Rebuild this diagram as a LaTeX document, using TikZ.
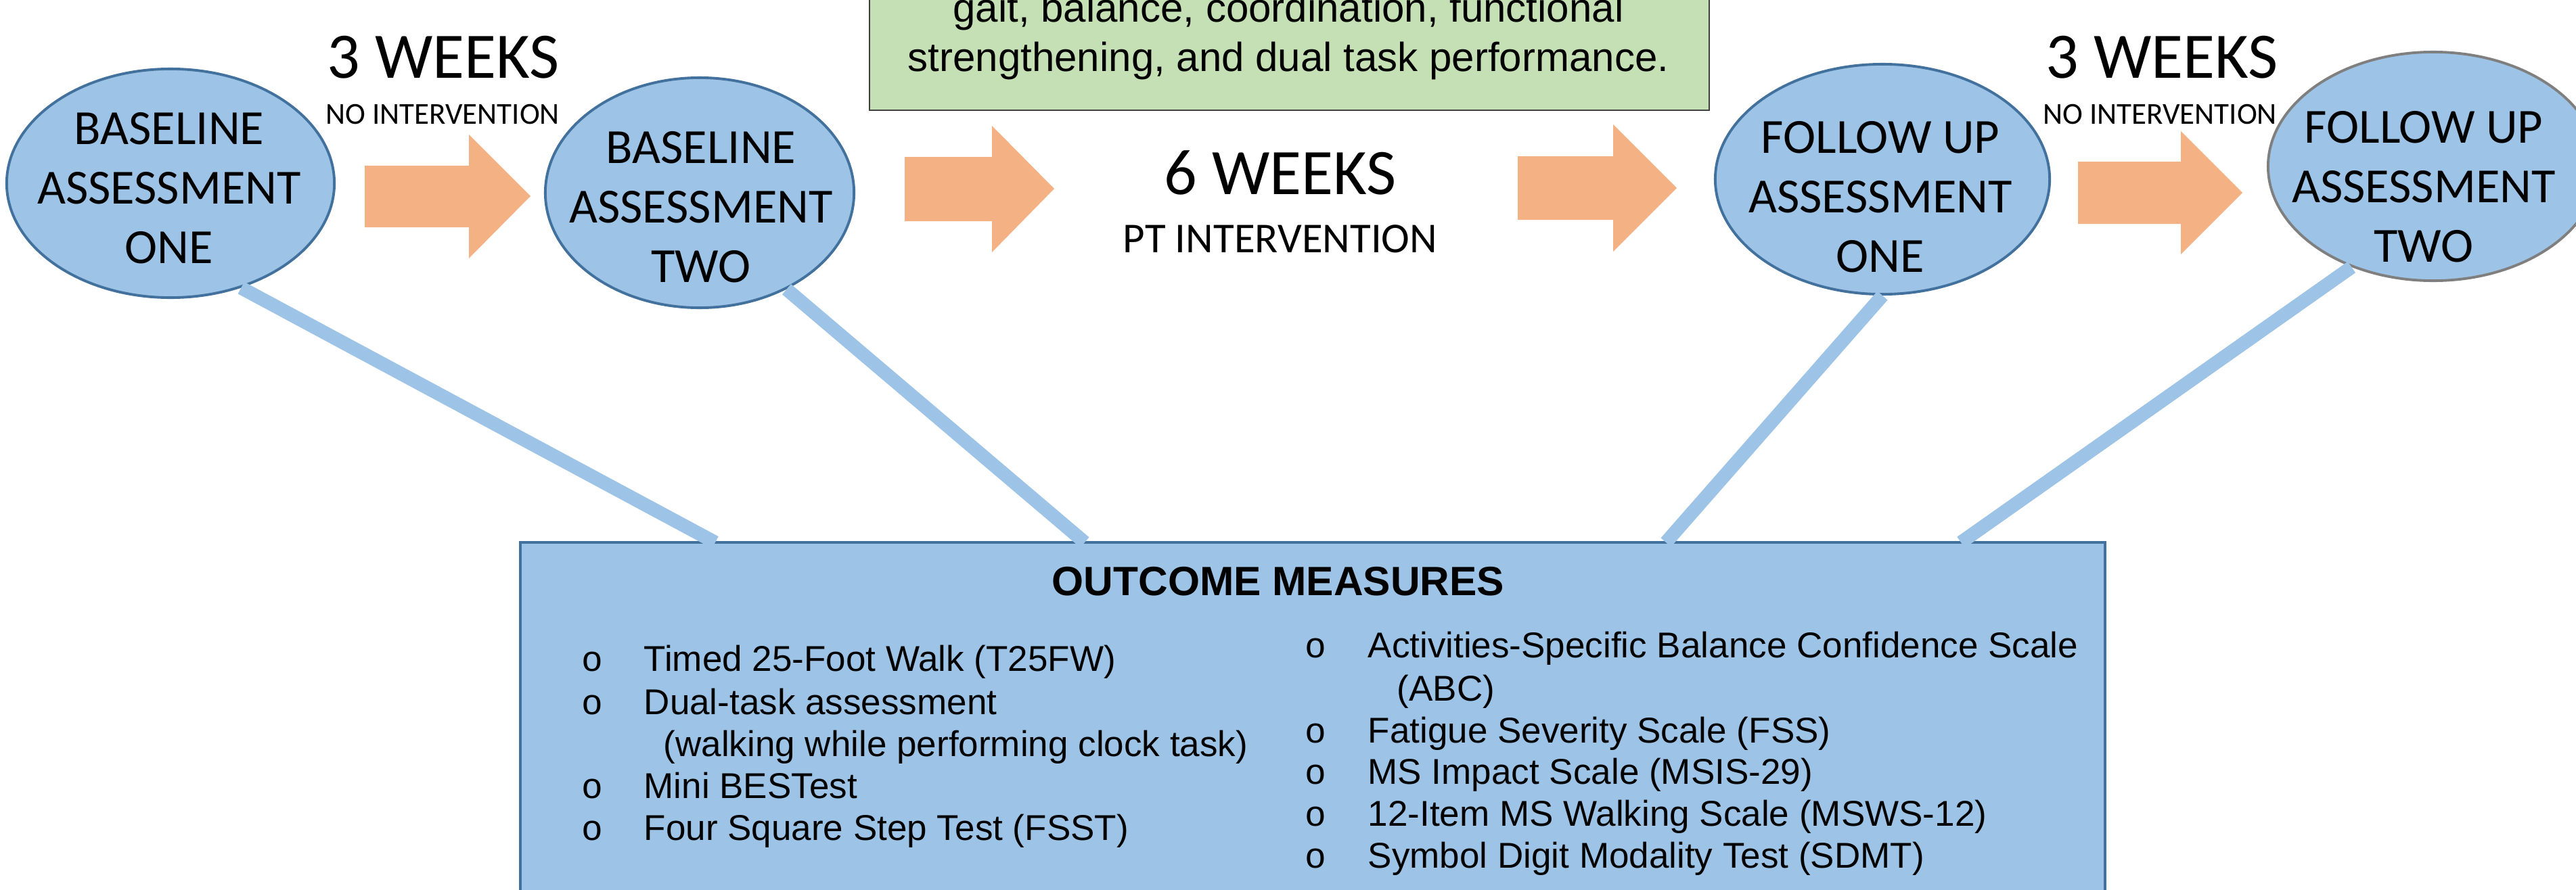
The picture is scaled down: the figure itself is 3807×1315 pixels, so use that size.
\documentclass[tikz,border=0pt]{standalone}
\usepackage{fontspec}
\setmainfont{Liberation Sans}
\newfontfamily\ftcal{Carlito}
\newfontfamily\ftari{Liberation Sans}
\newfontfamily\ftmono{Liberation Mono}
\usetikzlibrary{shapes.geometric}

\definecolor{ellfill}{HTML}{9DC3E6}
\definecolor{ellline}{HTML}{41719C}
\definecolor{arrowfill}{HTML}{F4B183}
\definecolor{notefill}{HTML}{C5E0B4}
\definecolor{noteline}{HTML}{404040}
\definecolor{greyline}{HTML}{7F7F7F}

\tikzset{
  visit/.style={ellipse, fill=ellfill, draw=ellline, line width=1.1pt, inner sep=0pt},
  visittext/.style={font=\ftcal\fontsize{20.63pt}{25.04pt}\selectfont, align=center, inner sep=0pt},
  weekbig/.style={font=\ftcal\fontsize{27.3pt}{32pt}\selectfont, inner sep=0pt, anchor=base},
  weeksmall/.style={font=\ftcal\fontsize{12.8pt}{15pt}\selectfont, inner sep=0pt, anchor=base},
  ptlabel/.style={font=\ftcal\fontsize{17.9pt}{21pt}\selectfont, inner sep=0pt, anchor=base},
  blockarrow/.style={fill=arrowfill, draw=none},
  notebox/.style={rectangle, fill=notefill, draw=noteline, line width=0.6pt, inner sep=0pt},
  notetext/.style={font=\ftari\fontsize{17.07pt}{20.77pt}\selectfont, inner sep=0pt, anchor=base},
  measbox/.style={rectangle, fill=ellfill, draw=ellline, line width=1.1pt, inner sep=0pt},
  meastitle/.style={font=\ftari\bfseries\fontsize{17.2pt}{20pt}\selectfont, inner sep=0pt, anchor=base},
  item/.style={font=\ftari\fontsize{15.08pt}{18pt}\selectfont, inner sep=0pt, anchor=base west},
  bul/.style={font=\ftmono\fontsize{15.08pt}{18pt}\selectfont, inner sep=0pt, anchor=base},
  link/.style={draw=ellfill, line width=0.2cm, line cap=butt}
}

\begin{document}
\begin{tikzpicture}[x=0.01cm, y=-0.01cm]
\useasboundingbox (0,0) rectangle (3807,1315);

% programme description (upper part runs off the top edge)
\node[notebox, minimum width=12.41cm, minimum height=2.23cm] (note) at (1905.5,51.5) {};
\node[notetext] (note1) at (1904,32) {gait, balance, coordination, functional};
\node[notetext] (note2) at (1904,105) {strengthening, and dual task performance.};

% outcome measures panel (continues below the bottom edge)
\node[measbox, minimum width=23.40cm, minimum height=5.98cm] (meas) at (1940,1101) {};
\node[meastitle] (mtitle) at (1889,880) {OUTCOME MEASURES};

% left column
\node[bul] (lb1) at (875,992) {o};
\node[item] (li1) at (951,992) {Timed 25-Foot Walk (T25FW)};
\node[bul] (lb2) at (875,1056) {o};
\node[item] (li2) at (951,1056) {Dual-task assessment};
\node[item] (li2b) at (980,1118) {(walking while performing clock task)};
\node[bul] (lb3) at (875,1180) {o};
\node[item] (li3) at (951,1180) {Mini BESTest};
\node[bul] (lb4) at (875,1242) {o};
\node[item] (li4) at (951,1242) {Four Square Step Test (FSST)};

% right column
\node[bul] (rb1) at (1944,972) {o};
\node[item] (ri1) at (2021,972) {Activities-Specific Balance Confidence Scale};
\node[item] (ri1b) at (2064,1036) {(ABC)};
\node[bul] (rb2) at (1944,1098) {o};
\node[item] (ri2) at (2021,1098) {Fatigue Severity Scale (FSS)};
\node[bul] (rb3) at (1944,1159) {o};
\node[item] (ri3) at (2021,1159) {MS Impact Scale (MSIS-29)};
\node[bul] (rb4) at (1944,1221) {o};
\node[item] (ri4) at (2021,1221) {12-Item MS Walking Scale (MSWS-12)};
\node[bul] (rb5) at (1944,1283) {o};
\node[item] (ri5) at (2021,1283) {Symbol Digit Modality Test (SDMT)};

% assessment visits
\node[visit, minimum width=4.84cm, minimum height=3.38cm] (e1) at (252,271) {};
\node[visittext] (e1t) at (250,278) {BASELINE\\ASSESSMENT\\ONE};
\node[visit, minimum width=4.56cm, minimum height=3.40cm] (e2) at (1034,285) {};
\node[visittext] (e2t) at (1036,306) {BASELINE\\ASSESSMENT\\TWO};
\node[visit, minimum width=4.94cm, minimum height=3.40cm] (f1) at (2782,265) {};
\node[visittext] (f1t) at (2779,291) {FOLLOW UP\\ASSESSMENT\\ONE};
\node[visit, draw=greyline, minimum width=4.88cm, minimum height=3.38cm] (f2) at (3596,246) {};
\node[visittext] (f2t) at (3582,276) {FOLLOW UP\\ASSESSMENT\\TWO};

% period labels
\node[weekbig] (wk1) at (655,115) {3 WEEKS};
\node[weeksmall] (ni1) at (654,183) {NO INTERVENTION};
\node[weekbig] (wk6) at (1892,287) {6 WEEKS};
\node[ptlabel] (pti) at (1892,373) {PT INTERVENTION};
\node[weekbig] (wk2) at (3195,115) {3 WEEKS};
\node[weeksmall] (ni2) at (3192,183) {NO INTERVENTION};

% block arrows between the stages
\fill[blockarrow] (539,245) -- (693,245) -- (693,199) -- (784,290) -- (693,382) -- (693,336) -- (539,336) -- cycle;
\fill[blockarrow] (1337,232) -- (1466,232) -- (1466,186) -- (1558,279) -- (1466,373) -- (1466,327) -- (1337,327) -- cycle;
\fill[blockarrow] (2243,231) -- (2384,231) -- (2384,184) -- (2478,278) -- (2384,372) -- (2384,325) -- (2243,325) -- cycle;
\fill[blockarrow] (3071,239) -- (3223,239) -- (3223,194) -- (3314,285) -- (3223,376) -- (3223,331) -- (3071,331) -- cycle;

% links from each visit to the outcome measures
\coordinate (c1) at (1057,802);
\coordinate (c2) at (1603,802);
\coordinate (c3) at (2462,802);
\coordinate (c4) at (2898,802);
\draw[link] (e1.-56) -- (c1);
\draw[link] (e2.-48) -- (c2);
\draw[link] (f1.-90) -- (c3);
\draw[link] (f2.-129) -- (c4);
\end{tikzpicture}
\end{document}
